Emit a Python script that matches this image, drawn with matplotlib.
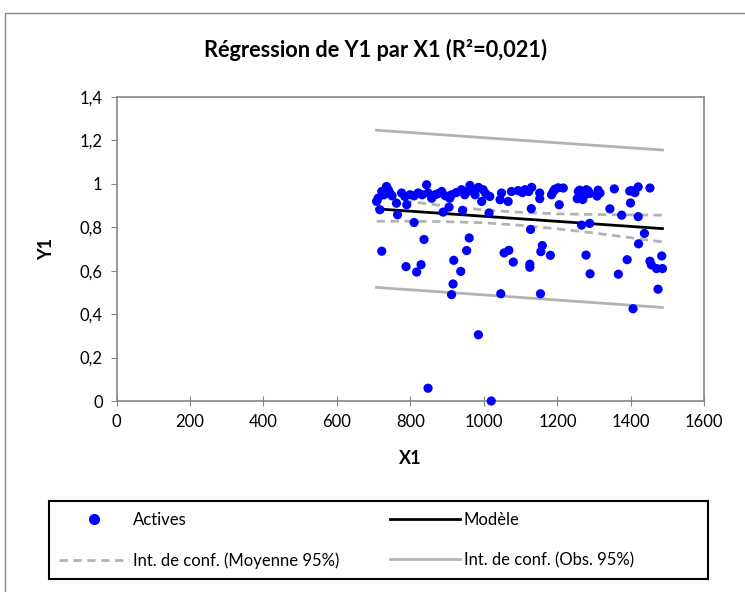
import matplotlib
matplotlib.use("Agg")
import matplotlib.pyplot as plt
from matplotlib.lines import Line2D
from matplotlib.patches import Rectangle

plt.rcParams['font.family'] = ['Lato', 'DejaVu Sans']

x_obs = [708, 712, 722, 728, 735, 740, 744, 750, 762, 776, 785, 790, 799, 810, 821, 832,
         844, 848, 858, 867, 875, 885, 895, 907, 912, 925, 939, 948, 955, 962, 970, 976,
         985, 994, 998, 1005, 1016, 1044, 1048, 1066, 1075, 1093, 1105, 1112, 1122, 1130,
         1152, 1152, 1184, 1189, 1193, 1202, 1216, 1254, 1257, 1261, 1269, 1275, 1279, 1284,
         1288, 1308, 1311, 1316, 1355, 1397, 1402, 1411, 1420, 1452, 1205, 1399,
         717, 765, 810, 889, 905, 942, 1014, 1129, 1343, 1375, 1420, 1266, 1288, 1127, 1437,
         722, 788, 817, 829, 837, 918, 937, 953, 960, 916, 912, 985, 848, 1020, 1046, 1055,
         1068, 1080, 1125, 1125, 1159, 1155, 1181, 1154, 1278, 1289, 1366, 1390, 1421, 1406,
         1452, 1456, 1470, 1486, 1484, 1474]
y_obs = [0.919, 0.934, 0.965, 0.950, 0.988, 0.972, 0.958, 0.945, 0.911, 0.958, 0.942, 0.904,
         0.950, 0.945, 0.958, 0.950, 0.996, 0.958, 0.934, 0.950, 0.955, 0.965, 0.945, 0.934,
         0.950, 0.960, 0.973, 0.950, 0.965, 0.993, 0.975, 0.950, 0.984, 0.919, 0.973, 0.955,
         0.942, 0.927, 0.958, 0.919, 0.965, 0.969, 0.960, 0.973, 0.965, 0.984, 0.958, 0.932,
         0.950, 0.965, 0.975, 0.982, 0.981, 0.932, 0.965, 0.971, 0.928, 0.950, 0.973, 0.967,
         0.956, 0.944, 0.971, 0.958, 0.977, 0.967, 0.969, 0.960, 0.986, 0.981, 0.904, 0.912,
         0.881, 0.858, 0.822, 0.870, 0.893, 0.878, 0.866, 0.886, 0.885, 0.856, 0.849, 0.810,
         0.818, 0.790, 0.772,
         0.690, 0.619, 0.594, 0.628, 0.744, 0.648, 0.597, 0.693, 0.751, 0.539, 0.490, 0.305,
         0.059, 0.0, 0.494, 0.682, 0.694, 0.640, 0.630, 0.616, 0.716, 0.688, 0.671, 0.494,
         0.672, 0.586, 0.584, 0.651, 0.724, 0.425, 0.644, 0.627, 0.610, 0.610, 0.668, 0.515]

# regression line
x_model = [708, 1486]
y_model = [0.885, 0.794]

# confidence interval of the mean (curved)
x_ci = [708, 800, 900, 1000, 1100, 1200, 1300, 1400, 1486]
y_ci_up = [0.940, 0.918, 0.897, 0.880, 0.869, 0.862, 0.859, 0.857, 0.856]
y_ci_lo = [0.828, 0.828, 0.826, 0.821, 0.809, 0.793, 0.774, 0.752, 0.733]

# confidence interval of the observations
x_obs_ci = [708, 1100, 1486]
y_obs_up = [1.247, 1.201, 1.156]
y_obs_lo = [0.523, 0.477, 0.431]

xticks = [0, 200, 400, 600, 800, 1000, 1200, 1400, 1600]
yticks = [0, 0.2, 0.4, 0.6, 0.8, 1.0, 1.2, 1.4]
ytick_labels = ['0', '0,2', '0,4', '0,6', '0,8', '1', '1,2', '1,4']

grey = '#868686'
ci_col = '#b3b3b3'

fig = plt.figure(figsize=(7.45, 5.92), dpi=100)
ax = fig.add_axes([0.1564, 0.3226, 0.789, 0.5135])

ax.plot(x_obs_ci, y_obs_up, color=ci_col, lw=2, zorder=2)
ax.plot(x_obs_ci, y_obs_lo, color=ci_col, lw=2, zorder=2)
ax.plot(x_ci, y_ci_up, color=ci_col, lw=2, ls=(0, (3, 2)), zorder=2)
ax.plot(x_ci, y_ci_lo, color=ci_col, lw=2, ls=(0, (3, 2)), zorder=2)
ax.plot(x_model, y_model, color='black', lw=2, zorder=3)
ax.scatter(x_obs, y_obs, s=44, color='#0000ff', edgecolors='none', zorder=4, clip_on=False)

ax.set_xlim(0, 1600)
ax.set_ylim(0, 1.4)
ax.set_xticks(xticks)
ax.set_yticks(yticks)
ax.set_yticklabels(ytick_labels)
for s in ax.spines.values():
    s.set_color(grey)
    s.set_linewidth(1.2)
ax.tick_params(axis='x', direction='inout', length=7, color=grey, labelsize=12, pad=6)
ax.tick_params(axis='y', direction='out', length=4, color=grey, labelsize=12, pad=6)

ax.set_xlabel('X1', fontsize=13, fontweight='bold', labelpad=14)
ax.set_ylabel('Y1', fontsize=13, fontweight='bold', labelpad=18)
fig.text(0.504, 0.915, 'Régression de Y1 par X1 (R²=0,021)', ha='center', va='center',
         fontsize=15.7, fontweight='bold')

# outer chart frame
fig.patches.append(Rectangle((5 / 745, -0.1), 1.2, 1.1 - 13 / 592,
                             transform=fig.transFigure, fill=False, edgecolor=grey, lw=1))
# legend box
fig.patches.append(Rectangle((49 / 745, 1 - 579 / 592), 659 / 745, 78 / 592,
                             transform=fig.transFigure, fill=False, edgecolor='black', lw=1.5))

handles = [Line2D([], [], ls='none', marker='o', color='#0000ff', markersize=7),
           Line2D([], [], color='black', lw=2),
           Line2D([], [], color=ci_col, lw=2, ls=(0, (3, 2))),
           Line2D([], [], color=ci_col, lw=2)]
labels = ['Actives', 'Modèle', 'Int. de conf. (Moyenne 95%)', 'Int. de conf. (Obs. 95%)']
# two columns: col1 = Actives, Moyenne ; col2 = Modèle, Obs.
order = [0, 2, 1, 3]
leg = fig.legend([handles[i] for i in order], [labels[i] for i in order],
                 loc='upper left', bbox_to_anchor=(59 / 745, 1 - 512 / 592),
                 ncol=2, fontsize=12, frameon=False, handlelength=4.2, handletextpad=0.25,
                 columnspacing=3.0, borderaxespad=0, borderpad=0, labelspacing=1.45)

fig.savefig('out.png', dpi=100)
